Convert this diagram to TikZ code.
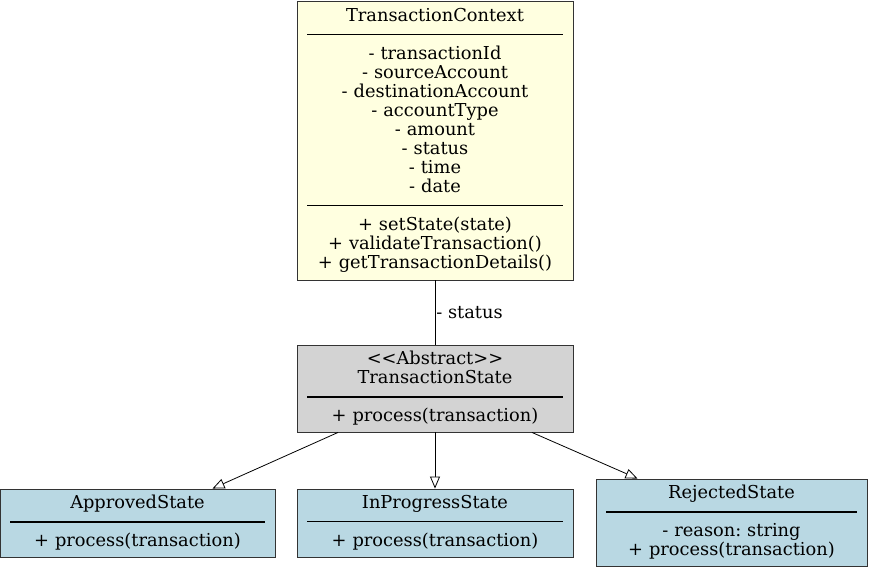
\documentclass[tikz,border=0pt]{standalone}
\usepackage{fontspec}
\setmainfont{DejaVu Serif}
\usetikzlibrary{arrows.meta, positioning}
\frenchspacing
\newlength{\wideclass}
\setlength{\wideclass}{276pt}
\newcommand{\sep}{\rule[0.3em]{\linewidth}{1.4pt}}
\newcommand{\umlfont}{\fontsize{17.8}{19}\selectfont}
\definecolor{ctxfill}{HTML}{FFFFE0}
\definecolor{statefill}{HTML}{D3D3D3}
\definecolor{leaffill}{HTML}{B9D8E3}
\tikzstyle{umlclass} = [rectangle, draw=black!80, line width=0.9pt, align=center, inner xsep=10pt, inner ysep=0pt, font=\umlfont]
\tikzstyle{assoc} = [line width=0.8pt]
\tikzstyle{inherit} = [line width=0.8pt, -{Triangle[open, length=12pt, width=10pt, fill=white]}]

\begin{document}
\begin{tikzpicture}[x=1pt, y=-1pt]
    \useasboundingbox (0,0) rectangle (873,570);

    % Context
    \node (context) [umlclass, fill=ctxfill, text width=\wideclass-20pt, minimum height=279pt] at (435,140.5)
        {TransactionContext\\\sep\\- transactionId\\- sourceAccount\\- destinationAccount\\- accountType\\- amount\\- status\\- time\\- date\\\sep\\+ setState(state)\\+ validateTransaction()\\+ getTransactionDetails()};

    % Abstract state
    \node (state) [umlclass, fill=statefill, text width=\wideclass-20pt, minimum height=87pt] at (435,388.5)
        {<{}<Abstract>{}>\\TransactionState\\\sep\\+ process(transaction)};

    % Concrete states
    \node (approved) [umlclass, fill=leaffill, text width=255pt, minimum height=68pt] at (137.5,523)
        {ApprovedState\\\sep\\+ process(transaction)};
    \node (inprogress) [umlclass, fill=leaffill, text width=\wideclass-20pt, minimum height=68pt] at (435,523)
        {InProgressState\\\sep\\+ process(transaction)};
    \node (rejected) [umlclass, fill=leaffill, text width=251pt, minimum height=87pt] at (731.5,522.5)
        {RejectedState\\\sep\\- reason: string\\+ process(transaction)};

    % ==== Arrows
    \draw [assoc] (context) -- node (statuslabel) [right, inner xsep=1pt, font=\umlfont] {- status} (state);

    \draw [inherit] ([xshift=-97pt]state.south) -- ([xshift=75pt]approved.north);
    \draw [inherit] (state) -- (inprogress);
    \draw [inherit] ([xshift=97pt]state.south) -- ([xshift=-94pt]rejected.north);

\end{tikzpicture}
\end{document}
